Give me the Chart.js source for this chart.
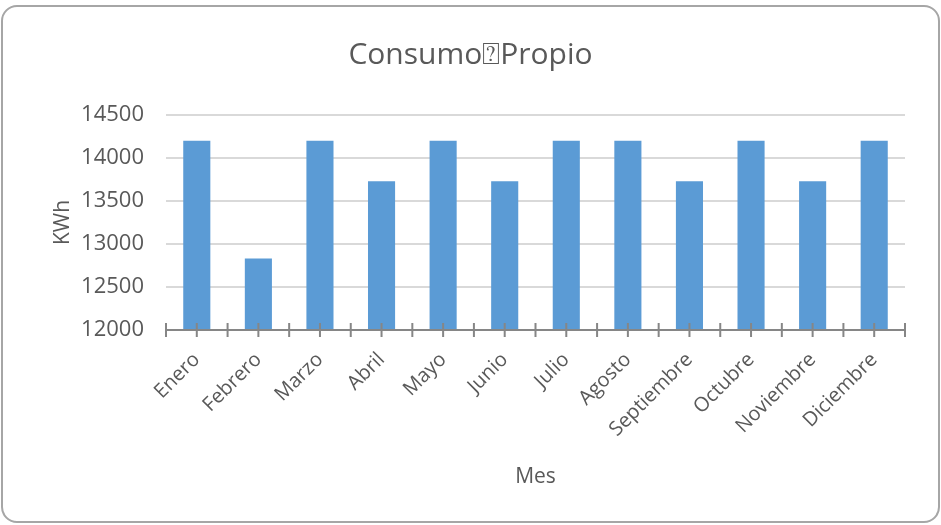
<!DOCTYPE html>
<html>
<head>
<meta charset="utf-8">
<script src="https://cdn.jsdelivr.net/npm/chart.js@4"></script>
<style>
  body { margin: 0; background: #fff; }
  #wrap { position: relative; width: 941px; height: 525px; }
  #frame {
    position: absolute; left: 1px; top: 5px; width: 935px; height: 514px;
    border: 2px solid #a6a6a6; border-radius: 16px; pointer-events: none;
  }
  canvas { position: absolute; left: 0; top: 0; }
</style>
</head>
<body>
<div id="wrap">
  <canvas id="chartCanvas" width="941" height="525"></canvas>
  <div id="frame"></div>
</div>
<script>
const months = ["Enero", "Febrero", "Marzo", "Abril", "Mayo", "Junio", "Julio",
  "Agosto", "Septiembre", "Octubre", "Noviembre", "Diciembre"];
const consumo = [14200, 12830, 14200, 13730, 14200, 13730, 14200, 14200, 13730, 14200, 13730, 14200];
const yTicks = [12000, 12500, 13000, 13500, 14000, 14500];

const textColor = "#595959";
const fontFamily = "'Open Sans', sans-serif";

// eje X estilo Excel: linea gris con marcas cruzadas en bordes y centros
const excelAxis = {
  id: "excelAxis",
  afterDatasetsDraw(chart) {
    const x = chart.scales.x;
    const y = chart.scales.y;
    const ctx = chart.ctx;
    const base = y.getPixelForValue(yTicks[0]);
    ctx.save();
    ctx.strokeStyle = "#868686";
    ctx.lineWidth = 2;
    ctx.beginPath();
    ctx.moveTo(x.left, base);
    ctx.lineTo(x.right, base);
    const half = (x.getPixelForValue(1) - x.getPixelForValue(0)) / 2;
    for (let i = 0; i < months.length; i++) {
      const c = x.getPixelForValue(i);
      [c - half, c].forEach(p => {
        ctx.moveTo(p, base - 7);
        ctx.lineTo(p, base + 7);
      });
    }
    const last = x.getPixelForValue(months.length - 1) + half;
    ctx.moveTo(last, base - 7);
    ctx.lineTo(last, base + 7);
    ctx.stroke();
    ctx.restore();
  }
};

new Chart(document.getElementById("chartCanvas"), {
  type: "bar",
  data: {
    labels: months,
    datasets: [{
      label: "Consumo Propio",
      data: consumo,
      backgroundColor: "#5b9bd5",
      barPercentage: 0.44,
      categoryPercentage: 1
    }]
  },
  options: {
    responsive: false,
    animation: false,
    layout: { padding: { left: 36, right: 36, top: 0, bottom: 35 } },
    plugins: {
      legend: { display: false },
      tooltip: { enabled: false },
      title: {
        display: true,
        text: "Consumo⍰Propio",
        color: textColor,
        font: { family: fontFamily, size: 30, weight: "normal" },
        padding: { top: 37, bottom: 42 }
      }
    },
    scales: {
      x: {
        grid: { display: false },
        border: { display: false },
        ticks: {
          color: textColor,
          font: { family: fontFamily, size: 20 },
          maxRotation: 45,
          minRotation: 45,
          autoSkip: false,
          padding: 10
        },
        title: {
          display: true,
          text: "Mes",
          color: textColor,
          font: { family: fontFamily, size: 21 },
          padding: { top: 0, bottom: 0 }
        },
        afterFit(scale) { scale.height = 160; }
      },
      y: {
        min: yTicks[0],
        max: yTicks[yTicks.length - 1],
        afterBuildTicks(scale) { scale.ticks = yTicks.map(v => ({ value: v })); },
        grid: {
          drawTicks: false,
          lineWidth: 2,
          color: ctx => ctx.index === 0 ? "rgba(0,0,0,0)" : "#d9d9d9"
        },
        border: { display: false },
        ticks: {
          color: textColor,
          font: { family: fontFamily, size: 22 },
          padding: 22,
          callback: v => String(v)
        },
        title: {
          display: true,
          text: "KWh",
          color: textColor,
          font: { family: fontFamily, size: 21 },
          padding: { top: 14, bottom: 0 }
        },
        afterFit(scale) { scale.width = 130; }
      }
    }
  },
  plugins: [excelAxis]
});
</script>
</body>
</html>
